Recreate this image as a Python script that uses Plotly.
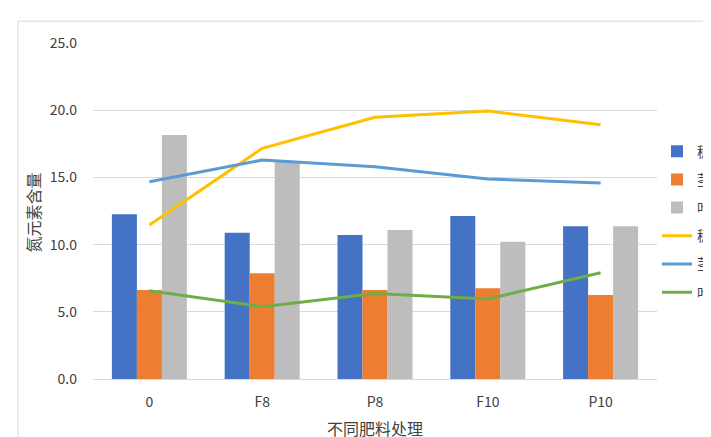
import plotly.graph_objects as go

categories = ["0", "F8", "P8", "F10", "P10"]
bar_sui = [12.25, 10.89, 10.71, 12.13, 11.36]
bar_jing = [6.62, 7.86, 6.62, 6.75, 6.25]
bar_ye = [18.15, 16.15, 11.09, 10.22, 11.36]
line_sui = [11.46, 17.16, 19.47, 19.94, 18.92]
line_jing = [14.68, 16.29, 15.80, 14.88, 14.58]
line_ye = [6.57, 5.38, 6.37, 5.95, 7.91]
yticks = [0, 5, 10, 15, 20, 25]

FONT = "Noto Sans CJK SC"
TXT = "#404040"

fig = go.Figure()
bar_specs = [("穗", bar_sui, "#4472C4"), ("茎", bar_jing, "#ED7D31"), ("叶", bar_ye, "#BDBDBD")]
for i, (n, v, c) in enumerate(bar_specs):
    fig.add_trace(go.Bar(x=categories, y=v, name=n, marker=dict(color=c, line=dict(width=0)),
                         legendgroup=f"b{i}"))
line_specs = [("穗含量", line_sui, "#FFC000"), ("茎含量", line_jing, "#5B9BD5"), ("叶含量", line_ye, "#70AD47")]
for i, (n, v, c) in enumerate(line_specs):
    fig.add_trace(go.Scatter(x=categories, y=v, name=n, mode="lines",
                             line=dict(color=c, width=3), legendgroup=f"l{i}"))

fig.update_layout(
    width=711, height=437,
    margin=dict(l=85, r=62, t=35, b=66, autoexpand=False),
    paper_bgcolor="white", plot_bgcolor="white",
    barmode="group", bargap=0.335, bargroupgap=0,
    font=dict(family=FONT, size=14, color=TXT),
    showlegend=True,
    legend=dict(x=1.0, xanchor="left", y=0.467, yanchor="middle",
                font=dict(size=14, color=TXT), tracegroupgap=7,
                bgcolor="rgba(0,0,0,0)"),
    xaxis=dict(title=dict(text="不同肥料处理", font=dict(size=16, color=TXT), standoff=14),
               showgrid=False, showline=True, linecolor="#D9D9D9", linewidth=1,
               tickfont=dict(size=14, color=TXT), ticks="", ticklabelstandoff=10),
    yaxis=dict(range=[0, 25], tickvals=yticks, tickformat=".1f",
               showgrid=True, gridcolor="#D9D9D9", gridwidth=1, zeroline=False,
               showline=False, tickfont=dict(size=14, color=TXT), ticks="",
               ticklabelstandoff=15),
    annotations=[dict(text="氮元素含量", xref="paper", yref="paper", x=-0.1055, y=0.497,
                      xanchor="center", yanchor="middle", textangle=-90, showarrow=False,
                      font=dict(size=16, color=TXT))],
    shapes=[dict(type="rect", xref="paper", yref="paper", x0=-0.133, x1=1.3, y0=-0.35, y1=1.065,
                 line=dict(color="#D9D9D9", width=1), fillcolor="rgba(0,0,0,0)", layer="below")],
)

fig.write_html("out.html")
